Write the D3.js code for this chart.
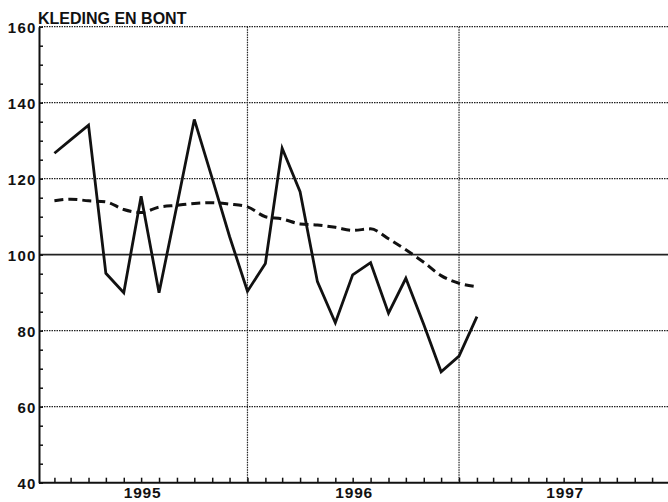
<!DOCTYPE html>
<html>
<head>
<meta charset="utf-8">
<script src="https://cdn.jsdelivr.net/npm/d3@7"></script>
<style>
	body { margin: 0; background: #fff; }
	svg { display: block; }
	text { font-family: 'Liberation Sans', Arial, sans-serif; fill: #111; }
</style>
</head>
<body>
<div id="canvas"></div>
<script>
const title = 'KLEDING EN BONT'

// one value per month, plotted at the end of the month
const months = [
	'1995-01', '1995-02', '1995-03', '1995-04', '1995-05', '1995-06',
	'1995-07', '1995-08', '1995-09', '1995-10', '1995-11', '1995-12',
	'1996-01', '1996-02', '1996-03', '1996-04', '1996-05', '1996-06',
	'1996-07', '1996-08', '1996-09', '1996-10', '1996-11', '1996-12',
	'1997-01'
]
const index = [
	126.7, 130.2, 134.1, 95.1, 90.0, 115.4, 90.0, 113.0, 135.6, 120.1, 104.8, 90.4,
	97.7, 128.0, 116.6, 92.9, 82.1, 94.7, 97.9, 84.6, 93.8, 81.6, 69.2, 73.3,
	83.7
]
const trend = [
	114.2, 114.6, 114.2, 113.9, 111.9, 111.1, 112.5, 113.0, 113.5, 113.7, 113.3, 112.6,
	110.0, 109.4, 108.1, 107.8, 107.2, 106.4, 106.8, 104.2, 101.3, 98.0, 94.5, 92.5,
	91.6
]
const yearLabels = ['1995', '1996', '1997']
const yTicks = [40, 60, 80, 100, 120, 140, 160]

function onLoad () {
	const w = 668, h = 502;
	const left = 39, top = 26.7, bottom = 482.7;

	const parse = d3.timeParse('%Y-%m');
	const rows = months.map((m, i) => ({
		date: d3.timeMonth.offset(parse(m), 1),
		index: index[i],
		trend: trend[i]
	}));

	const years = yearLabels.map(d => parse(`${d}-01`));
	const end = d3.timeYear.offset(years[years.length - 1], 1);

	const x = d3.scaleTime()
		.domain([years[0], end])
		.range([36.5, 670]);
	const y = d3.scaleLinear()
		.domain([40, 160])
		.range([bottom, top]);

	const svg = d3.select('#canvas')
	.append('svg')
		.attr('width', w)
		.attr('height', h)
		.attr('viewBox', [0, 0, w, h]);

	// horizontal grid (dotted), 100 drawn solid
	svg.append('g')
		.attr('class', 'grid-y')
	.selectAll('line')
	.data(yTicks.filter(d => d > 40))
	.join('line')
		.attr('x1', left)
		.attr('x2', w)
		.attr('y1', d => y(d))
		.attr('y2', d => y(d))
		.style('stroke', '#222')
		.style('stroke-width', d => d === 100 ? 1.8 : 1.2)
		.style('stroke-dasharray', d => d === 100 ? null : '1.5,1');

	// vertical grid at year boundaries
	svg.append('g')
		.attr('class', 'grid-x')
	.selectAll('line')
	.data(years.slice(1))
	.join('line')
		.attr('x1', d => x(d))
		.attr('x2', d => x(d))
		.attr('y1', top)
		.attr('y2', bottom)
		.style('stroke', '#222')
		.style('stroke-width', 1.2)
		.style('stroke-dasharray', '1.5,1');

	// y axis: minor ticks every 5, labels every 20
	const yAxis = d3.axisLeft(y)
		.tickValues(d3.range(40, 161, 5))
		.tickSizeInner(-4)
		.tickSizeOuter(0)
		.tickPadding(2.5)
		.tickFormat(d => yTicks.includes(d) ? d : '');
	const gy = svg.append('g')
		.attr('transform', `translate(${left},0)`)
		.call(yAxis);
	gy.select('.domain').style('stroke', '#111').style('stroke-width', 2);
	gy.selectAll('.tick line').style('stroke', '#111').style('stroke-width', 1.5);
	gy.selectAll('.tick text')
		.attr('dy', '0.36em')
		.style('font-size', '15px')
		.style('font-weight', 'bold')
		.style('letter-spacing', '1.2px');

	// x axis: monthly ticks pointing up
	const xAxis = d3.axisBottom(x)
		.ticks(d3.timeMonth.every(1))
		.tickSizeInner(-5)
		.tickSizeOuter(0)
		.tickFormat('');
	const gx = svg.append('g')
		.attr('transform', `translate(0,${bottom})`)
		.call(xAxis);
	gx.select('.domain').attr('d', `M${left},0H${w}`).style('stroke', '#111').style('stroke-width', 2);
	gx.selectAll('.tick line').style('stroke', '#111').style('stroke-width', 1.5);
	gx.selectAll('.tick').filter(d => x(d) < left + 2).remove();

	svg.append('g')
		.attr('class', 'year-labels')
	.selectAll('text')
	.data(years)
	.join('text')
		.attr('x', d => x(new Date(d.getFullYear(), 6, 1)) + 1.5)
		.attr('y', 498.3)
		.attr('text-anchor', 'middle')
		.style('font-size', '15.5px')
		.style('font-weight', 'bold')
		.style('letter-spacing', '0.8px')
		.text((d, i) => yearLabels[i]);

	// series
	const lineIndex = d3.line()
		.x(d => x(d.date))
		.y(d => y(d.index));
	const lineTrend = d3.line()
		.curve(d3.curveMonotoneX)
		.x(d => x(d.date))
		.y(d => y(d.trend));

	svg.append('path')
		.datum(rows)
		.attr('d', lineTrend)
		.style('fill', 'none')
		.style('stroke', '#111')
		.style('stroke-width', 3)
		.style('stroke-dasharray', '9,5');

	svg.append('path')
		.datum(rows)
		.attr('d', lineIndex)
		.style('fill', 'none')
		.style('stroke', '#111')
		.style('stroke-width', 2.8)
		.style('stroke-linejoin', 'miter');

	svg.append('text')
		.attr('x', 38)
		.attr('y', 24)
		.style('font-size', '16px')
		.style('font-weight', 'bold')
		.text(title);
}

onLoad();
</script>
</body>
</html>
